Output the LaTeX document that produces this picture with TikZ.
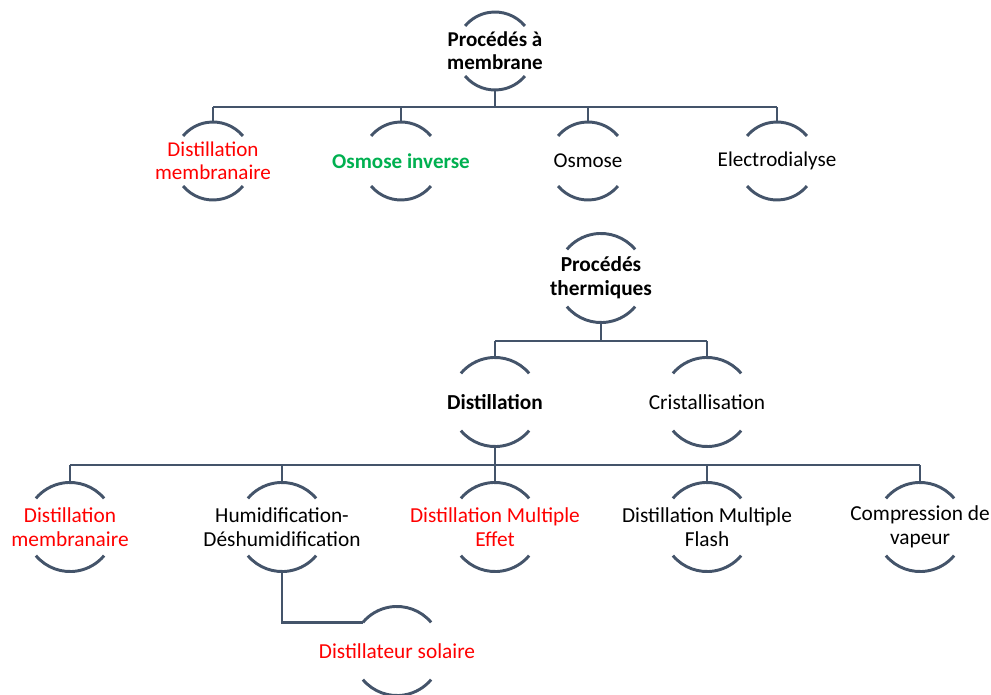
\documentclass[tikz,border=0pt]{standalone}
\usepackage{fontspec}
\setmainfont{Carlito}
\usepackage{tikz}
\definecolor{rimcol}{HTML}{44546A}
\definecolor{pptred}{HTML}{FF0000}
\definecolor{pptgreen}{HTML}{00B050}
\tikzset{
  bubble/.style={circle, inner sep=0pt, outer sep=0pt, minimum size=2*#1},
  rim/.style={draw=rimcol, line width=2.2pt},
  lbl/.style={align=center, text=black, inner sep=0pt},
}
\begin{document}
\begin{tikzpicture}[x=0.75pt, y=-0.75pt]
    \useasboundingbox (0,0) rectangle (991,695);
    % membrane processes
    \fontsize{15.8}{17.3}\selectfont
    \node [bubble=29.25pt, label={[lbl]center:\textbf{Procédés à}\\\textbf{membrane}}] (pm) at (495,51) {};
    \node [bubble=29.25pt, label={[lbl, text=pptred]center:Distillation\\membranaire}] (dm1) at (213,161) {};
    \node [bubble=29.25pt, label={[lbl, text=pptgreen]center:\textbf{Osmose inverse}}] (oi) at (401,161) {};
    \node [bubble=29.25pt, label={[lbl]center:Osmose}] (os) at (588,161) {};
    \node [bubble=29.25pt, label={[lbl]center:Electrodialyse}] (ed) at (777,161) {};
    \coordinate (mbus) at (495,107);
    % thermal processes
    \fontsize{16}{18}\selectfont
    \node [bubble=33.4pt, label={[lbl]center:\textbf{Procédés}\\\textbf{thermiques}}] (pt) at (601,278) {};
    \node [bubble=33.4pt, label={[lbl]center:\textbf{Distillation}}] (di) at (495,402) {};
    \node [bubble=33.4pt, label={[lbl]center:Cristallisation}] (cr) at (707,402) {};
    \node [bubble=33.4pt, label={[lbl, text=pptred]center:Distillation\\membranaire}] (dm2) at (70,527) {};
    \node [bubble=33.4pt, label={[lbl]center:Humidification-\\Déshumidification}] (hd) at (282,527) {};
    \node [bubble=33.4pt, label={[lbl, text=pptred]center:Distillation Multiple\\Effet}] (dme) at (495,527) {};
    \node [bubble=33.4pt, label={[lbl]center:Distillation Multiple\\Flash}] (dmf) at (707,527) {};
    \node [bubble=33.4pt, label={[lbl]center:Compression de\\vapeur}] (cv) at (920,527) {};
    \node [bubble=33.4pt, label={[lbl, text=pptred]center:Distillateur solaire}] (ds) at (397,651) {};
    \coordinate (tbus) at (601,341);
    \coordinate (dbus) at (495,465);
    % arcs round the bubbles
    \foreach \n/\r in {pm/29.25pt, dm1/29.25pt, oi/29.25pt, os/29.25pt, ed/29.25pt,
                       pt/33.4pt, di/33.4pt, cr/33.4pt, dm2/33.4pt, hd/33.4pt,
                       dme/33.4pt, dmf/33.4pt, cv/33.4pt, ds/33.4pt}
        \draw [rim] (\n.40) arc [start angle=40, end angle=140, radius=\r]
                    (\n.220) arc [start angle=220, end angle=320, radius=\r];
    % connectors
    \draw [rim] (pm.south) -- (mbus);
    \draw [rim] (dm1 |- mbus) -- (ed |- mbus);
    \foreach \n in {dm1, oi, os, ed}
        \draw [rim] (\n.north) -- (\n |- mbus);
    \draw [rim] (pt.south) -- (tbus);
    \draw [rim] (di |- tbus) -- (cr |- tbus);
    \foreach \n in {di, cr}
        \draw [rim] (\n.north) -- (\n |- tbus);
    \draw [rim] (di.south) -- (dbus);
    \draw [rim] (dm2 |- dbus) -- (cv |- dbus);
    \foreach \n in {dm2, hd, dme, dmf, cv}
        \draw [rim] (\n.north) -- (\n |- dbus);
    \draw [rim] (hd.south) |- (ds.140);
\end{tikzpicture}
\end{document}
